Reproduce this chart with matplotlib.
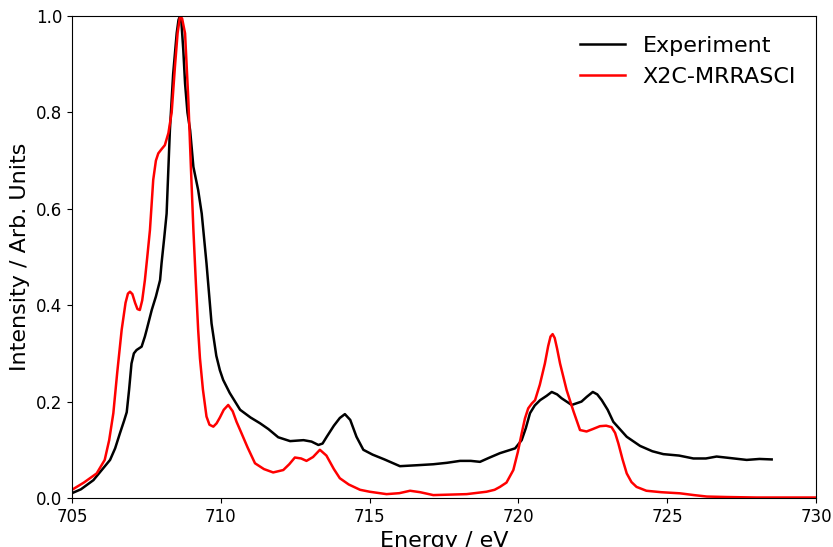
import matplotlib
matplotlib.use("Agg")
import matplotlib.pyplot as plt

# Experimental L-edge spectrum (energy in eV, normalised intensity)
exp_energy = [705.0, 705.3, 705.72, 706.0, 706.28, 706.45, 706.61, 706.75, 706.84, 706.92,
              707.0, 707.08, 707.17, 707.34, 707.45, 707.51, 707.68, 707.82, 707.96, 708.01,
              708.1, 708.18, 708.29, 708.4, 708.52, 708.58, 708.63, 708.68, 708.74, 708.8,
              708.88, 708.97, 709.08, 709.24, 709.36, 709.52, 709.69, 709.85, 709.97, 710.08,
              710.3, 710.65, 711.0, 711.32, 711.6, 711.93, 712.33, 712.78, 713.05, 713.28,
              713.42, 713.56, 713.8, 714.0, 714.17, 714.35, 714.56, 714.79, 715.1, 715.5,
              716.02, 716.6, 717.14, 717.6, 718.04, 718.4, 718.71, 719.0, 719.38, 719.89,
              720.11, 720.25, 720.39, 720.55, 720.73, 720.95, 721.12, 721.3, 721.45, 721.79,
              722.12, 722.3, 722.5, 722.65, 722.8, 723.0, 723.19, 723.64, 724.09, 724.5,
              724.87, 725.4, 725.88, 726.3, 726.66, 727.1, 727.67, 728.1, 728.51]
exp_intensity = [0.010, 0.018, 0.037, 0.058, 0.079, 0.103, 0.134, 0.160, 0.178, 0.225,
                 0.279, 0.300, 0.307, 0.314, 0.335, 0.349, 0.390, 0.418, 0.452, 0.487,
                 0.540, 0.590, 0.763, 0.880, 0.965, 0.992, 1.000, 0.985, 0.930, 0.860,
                 0.800, 0.763, 0.687, 0.639, 0.590, 0.487, 0.362, 0.295, 0.265, 0.245,
                 0.218, 0.183, 0.167, 0.155, 0.143, 0.126, 0.118, 0.120, 0.117, 0.110,
                 0.113, 0.127, 0.150, 0.166, 0.174, 0.162, 0.127, 0.100, 0.090, 0.080,
                 0.066, 0.068, 0.070, 0.073, 0.077, 0.077, 0.075, 0.083, 0.093, 0.103,
                 0.120, 0.145, 0.176, 0.192, 0.203, 0.212, 0.220, 0.215, 0.207, 0.193,
                 0.200, 0.210, 0.220, 0.215, 0.203, 0.183, 0.158, 0.127, 0.108, 0.097,
                 0.091, 0.088, 0.082, 0.082, 0.086, 0.083, 0.079, 0.081, 0.080]

# X2C-MRRASCI simulated spectrum
calc_energy = [705.0, 705.4, 705.83, 706.1, 706.25, 706.39, 706.52, 706.67, 706.8, 706.88,
               706.95, 707.03, 707.12, 707.2, 707.28, 707.36, 707.45, 707.53, 707.62, 707.73,
               707.82, 707.9, 708.0, 708.12, 708.24, 708.35, 708.46, 708.55, 708.63, 708.7,
               708.8, 708.91, 709.0, 709.08, 709.16, 709.24, 709.3, 709.4, 709.52, 709.62,
               709.75, 709.86, 709.97, 710.1, 710.25, 710.4, 710.53, 710.65, 710.9, 711.15,
               711.45, 711.76, 712.1, 712.3, 712.49, 712.7, 712.88, 713.1, 713.33, 713.55,
               713.8, 714.0, 714.3, 714.68, 715.0, 715.57, 716.0, 716.36, 716.7, 717.14,
               717.7, 718.26, 718.93, 719.2, 719.38, 719.6, 719.83, 719.98, 720.11, 720.22,
               720.33, 720.45, 720.56, 720.72, 720.89, 721.0, 721.08, 721.15, 721.22, 721.3,
               721.4, 721.62, 721.85, 722.07, 722.29, 722.5, 722.74, 722.95, 723.13, 723.25,
               723.36, 723.5, 723.64, 723.8, 723.97, 724.3, 724.8, 725.43, 725.9, 726.33,
               727.0, 728.0, 729.0, 730.0]
calc_intensity = [0.017, 0.032, 0.051, 0.079, 0.120, 0.176, 0.260, 0.349, 0.405, 0.424,
                  0.428, 0.423, 0.405, 0.392, 0.390, 0.410, 0.452, 0.500, 0.556, 0.660,
                  0.700, 0.715, 0.723, 0.732, 0.757, 0.800, 0.895, 0.965, 0.999, 0.995,
                  0.964, 0.826, 0.680, 0.556, 0.450, 0.349, 0.290, 0.225, 0.169, 0.152,
                  0.148, 0.155, 0.167, 0.183, 0.193, 0.180, 0.158, 0.141, 0.105, 0.072,
                  0.060, 0.053, 0.058, 0.070, 0.084, 0.082, 0.077, 0.085, 0.100, 0.088,
                  0.060, 0.041, 0.028, 0.017, 0.013, 0.008, 0.010, 0.015, 0.012, 0.006,
                  0.007, 0.008, 0.013, 0.017, 0.023, 0.032, 0.058, 0.095, 0.134, 0.165,
                  0.186, 0.196, 0.203, 0.235, 0.279, 0.315, 0.335, 0.340, 0.332, 0.310,
                  0.279, 0.224, 0.180, 0.141, 0.138, 0.143, 0.149, 0.150, 0.147, 0.135,
                  0.113, 0.080, 0.051, 0.033, 0.023, 0.015, 0.012, 0.0097, 0.006, 0.003,
                  0.002, 0.001, 0.001, 0.001]

fig = plt.figure(figsize=(8.33, 5.47), dpi=100)
ax = fig.add_axes([0.0864, 0.0896, 0.8932, 0.8811])

ax.plot(exp_energy, exp_intensity, color="black", lw=1.8, label="Experiment")
ax.plot(calc_energy, calc_intensity, color="red", lw=1.8, label="X2C-MRRASCI")

ax.set_xlim(705, 730)
ax.set_ylim(0, 1.0)
ax.set_xticks([705, 710, 715, 720, 725, 730])
ax.set_yticks([0.0, 0.2, 0.4, 0.6, 0.8, 1.0])
ax.tick_params(labelsize=12)
ax.set_xlabel("Energy / eV", fontsize=16)
ax.set_ylabel("Intensity / Arb. Units", fontsize=16)
ax.legend(loc="upper right", fontsize=16, frameon=False)

fig.savefig("out.png", dpi=100)
